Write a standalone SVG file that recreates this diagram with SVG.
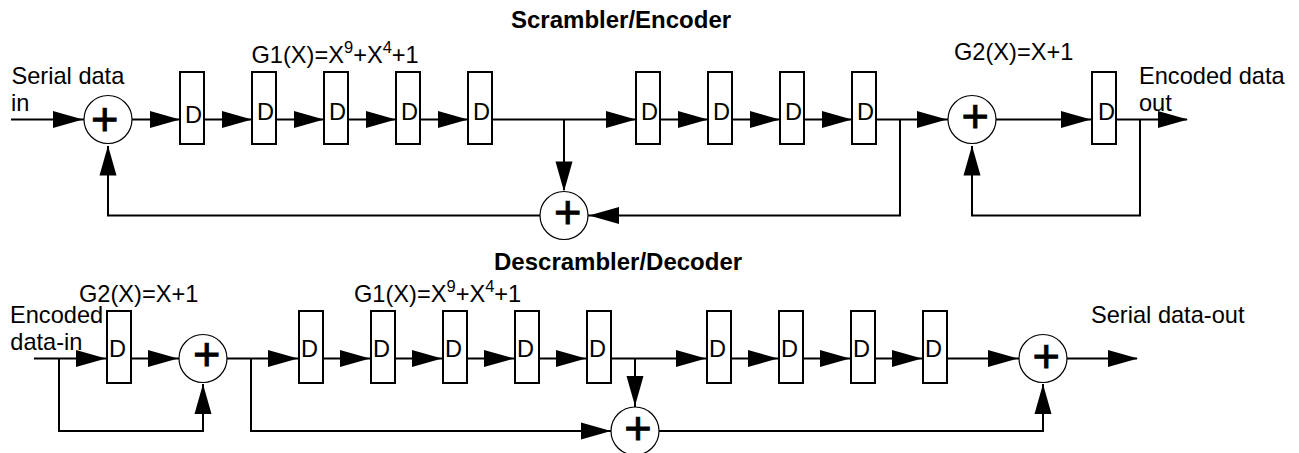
<svg xmlns="http://www.w3.org/2000/svg" width="1299" height="453" viewBox="0 0 1299 453">
<style>
text{font-family:"Liberation Sans",Arial,sans-serif;font-size:23.6px;fill:#000}
text.b{font-weight:bold;font-size:24px}
.box{fill:#fff;stroke:#000;stroke-width:2}
.sum{fill:#fff;stroke:#000;stroke-width:1.2}
text.plus{font-size:47px;text-anchor:middle;stroke:#000;stroke-width:.9}
.w{fill:none;stroke:#000;stroke-width:2}
text .s{font-size:16.5px}
</style>
<defs>
<rect id="r" class="box" width="24" height="72"/>
<circle id="c" class="sum" r="24"/>
<path id="a" d="M-30-8.5L0 0L-30 8.5Z" fill="#000"/>
</defs>
<g id="connectors">
<path class="w" d="M11 119.5H84M132 119.5H180M204 119.5H252M276 119.5H324M348 119.5H396M420 119.5H468M492 119.5H636M660 119.5H708M732 119.5H780M804 119.5H852M876 119.5H948M996 119.5H1092M1116 119.5H1187"/>
<path class="w" d="M108 146V215.5H540M588 215.5H900V119.5M564 119.5V190M972 146V215.5H1140V119.5"/>
<use href="#a" x="83" y="119.5"/><use href="#a" x="180" y="119.5"/><use href="#a" x="252" y="119.5"/><use href="#a" x="324" y="119.5"/><use href="#a" x="396" y="119.5"/><use href="#a" x="468" y="119.5"/>
<use href="#a" x="636" y="119.5"/><use href="#a" x="708" y="119.5"/><use href="#a" x="780" y="119.5"/><use href="#a" x="852" y="119.5"/><use href="#a" x="947" y="119.5"/><use href="#a" x="1091" y="119.5"/><use href="#a" x="1188" y="119.5"/>
<use href="#a" transform="translate(108,145.5) rotate(-90)"/><use href="#a" transform="translate(972,145.5) rotate(-90)"/><use href="#a" transform="translate(564,191.5) rotate(90)"/><use href="#a" transform="translate(589,215.5) rotate(180)"/>
<path class="w" d="M34 358.5H107M131 358.5H179M227 358.5H299M323 358.5H371M395 358.5H443M467 358.5H515M539 358.5H587M611 358.5H707M731 358.5H779M803 358.5H851M875 358.5H923M947 358.5H1019M1067 358.5H1137"/>
<path class="w" d="M59 358.5V431H203V384M251 358.5V431H611M659 431H1043V384M635 358.5V407"/>
<use href="#a" x="106" y="358.5"/><use href="#a" x="178" y="358.5"/><use href="#a" x="298" y="358.5"/><use href="#a" x="370" y="358.5"/><use href="#a" x="442" y="358.5"/><use href="#a" x="514" y="358.5"/><use href="#a" x="586" y="358.5"/>
<use href="#a" x="706" y="358.5"/><use href="#a" x="778" y="358.5"/><use href="#a" x="850" y="358.5"/><use href="#a" x="922" y="358.5"/><use href="#a" x="1018" y="358.5"/><use href="#a" x="1138" y="358.5"/>
<use href="#a" x="611" y="431"/><use href="#a" transform="translate(203,384) rotate(-90)"/><use href="#a" transform="translate(1043,384) rotate(-90)"/><use href="#a" transform="translate(635,406) rotate(90)"/>
</g>
<g id="n1"><use href="#c" x="108" y="119.5"/><text class="plus" x="104.7" y="134.5">+</text></g>
<g id="n2"><use href="#r" x="180" y="72"/><text x="185" y="122.7">D</text></g>
<g id="n3"><use href="#r" x="252" y="72"/><text x="257" y="120">D</text></g>
<g id="n4"><use href="#r" x="324" y="72"/><text x="329" y="120">D</text></g>
<g id="n5"><use href="#r" x="396" y="72"/><text x="401" y="120">D</text></g>
<g id="n6"><use href="#r" x="468" y="72"/><text x="473" y="120">D</text></g>
<g id="n7"><use href="#r" x="636" y="72"/><text x="641" y="120">D</text></g>
<g id="n8"><use href="#r" x="708" y="72"/><text x="713" y="120">D</text></g>
<g id="n9"><use href="#r" x="780" y="72"/><text x="785" y="120">D</text></g>
<g id="n10"><use href="#r" x="852" y="72"/><text x="857" y="120">D</text></g>
<g id="n11"><use href="#c" x="972" y="119.5"/><text class="plus" x="975.3" y="131.8">+</text></g>
<g id="n12"><use href="#r" x="1092" y="72"/><text x="1098" y="120">D</text></g>
<g id="n13"><use href="#c" x="564" y="215.5"/><text class="plus" x="567.7" y="227.5">+</text></g>
<g id="n14"><use href="#r" x="107" y="311"/><text x="109" y="357">D</text></g>
<g id="n15"><use href="#c" x="203" y="358.5"/><text class="plus" x="206.7" y="370.1">+</text></g>
<g id="n16"><use href="#r" x="299" y="311"/><text x="301" y="357">D</text></g>
<g id="n17"><use href="#r" x="371" y="311"/><text x="373" y="357">D</text></g>
<g id="n18"><use href="#r" x="443" y="311"/><text x="445" y="357">D</text></g>
<g id="n19"><use href="#r" x="515" y="311"/><text x="517" y="357">D</text></g>
<g id="n20"><use href="#r" x="587" y="311"/><text x="589" y="357">D</text></g>
<g id="n21"><use href="#r" x="707" y="311"/><text x="709" y="357">D</text></g>
<g id="n22"><use href="#r" x="779" y="311"/><text x="781" y="357">D</text></g>
<g id="n23"><use href="#r" x="851" y="311"/><text x="853" y="357">D</text></g>
<g id="n24"><use href="#r" x="923" y="311"/><text x="925" y="357">D</text></g>
<g id="n25"><use href="#c" x="1043" y="358.5"/><text class="plus" x="1046.3" y="371.8">+</text></g>
<g id="n26"><use href="#c" x="635" y="431"/><text class="plus" x="638" y="443.5">+</text></g>
<g id="labels">
<text class="b" x="511" y="27.5">Scrambler/Encoder</text>
<text class="b" x="494" y="270">Descrambler/Decoder</text>
<text x="11.5" y="84">Serial data</text><text x="11" y="111">in</text>
<text x="251.5" y="62.5">G1(X)=X<tspan class="s" dy="-10">9</tspan><tspan dy="10">+X</tspan><tspan class="s" dy="-10">4</tspan><tspan dy="10">+1</tspan></text>
<text x="954" y="60">G2(X)=X+1</text>
<text x="1139" y="84">Encoded data</text><text x="1139" y="111">out</text>
<text x="79" y="302">G2(X)=X+1</text>
<text x="10" y="323">Encoded</text><text x="10.3" y="350">data-in</text>
<text x="354" y="302">G1(X)=X<tspan class="s" dy="-10">9</tspan><tspan dy="10">+X</tspan><tspan class="s" dy="-10">4</tspan><tspan dy="10">+1</tspan></text>
<text x="1091" y="322.5">Serial data-out</text>
</g>
</svg>
